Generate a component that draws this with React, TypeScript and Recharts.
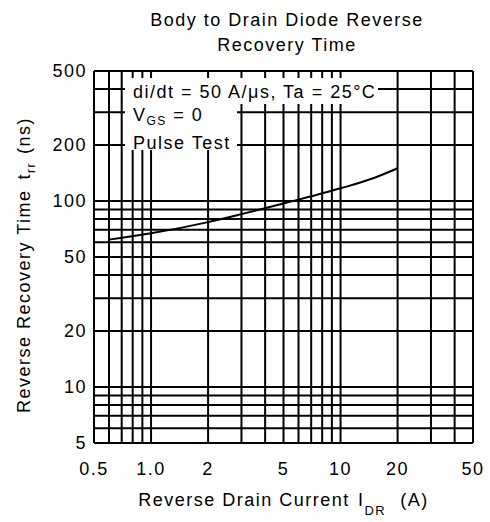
import React from 'react';
import { LineChart, Line, XAxis, YAxis, ReferenceLine, Label } from 'recharts';

// Reverse drain current (A) vs reverse recovery time (ns)
const currentA = [0.6, 1, 2, 3, 5, 7, 10, 15, 20];
const recoveryNs = [62, 67, 77, 85, 97, 106, 117, 133, 150];

const xTicks = [0.5, 1, 2, 5, 10, 20, 50];
const xTickLabels = ['0.5', '1.0', '2', '5', '10', '20', '50'];
const yTicks = [5, 10, 20, 50, 100, 200, 500];
const yTickLabels = ['5', '10', '20', '50', '100', '200', '500'];

// log-paper grid lines
const xGrid = [0.5, 0.6, 0.7, 0.8, 0.9, 1, 2, 3, 4, 5, 6, 7, 8, 9, 10, 20, 30, 40, 50];
const yGrid = [5, 6, 7, 8, 9, 10, 20, 30, 40, 50, 60, 70, 80, 90, 100, 200, 300, 400, 500];

const FONT = '"Liberation Sans", Arial, sans-serif';
const textStyle = { fontFamily: FONT, fontSize: 18, letterSpacing: 1.5, fill: '#000' };

const data = currentA.map((x, i) => ({ x, trr: recoveryNs[i] }));

function XTitle(props: any) {
  const { x, y, width } = props.viewBox;
  return (
    <text x={x + width / 2} y={y + 63} textAnchor="middle" style={textStyle}>
      Reverse Drain Current
      <tspan dx={8}>I</tspan>
      <tspan dy={9} fontSize={13}>DR</tspan>
      <tspan dy={-9} dx={14}>(A)</tspan>
    </text>
  );
}

function YTitle(props: any) {
  const cx = 30;
  const cy = 265;
  return (
    <text x={cx} y={cy} textAnchor="middle" transform={`rotate(-90, ${cx}, ${cy})`} style={textStyle}>
      Reverse Recovery Time
      <tspan dx={10}>t</tspan>
      <tspan dy={5} fontSize={12}>rr</tspan>
      <tspan dy={-5} dx={8}>(ns)</tspan>
    </text>
  );
}

export default function App() {
  const boxText: React.CSSProperties = {
    fontFamily: FONT,
    fontSize: 18,
    letterSpacing: 1.5,
    color: '#000',
    background: '#fff',
    position: 'absolute',
    whiteSpace: 'nowrap',
  };

  return (
    <div style={{ position: 'relative', width: 490, height: 522, background: '#fff' }}>
      <style>{'body{margin:0}'}</style>
      <LineChart width={490} height={522} data={data} margin={{ top: 71, right: 17, bottom: 0, left: 0 }}>
        <XAxis
          dataKey="x"
          type="number"
          scale="log"
          domain={[0.5, 50]}
          allowDataOverflow
          ticks={xTicks}
          interval={0}
          tickFormatter={(v: number) => xTickLabels[xTicks.indexOf(v)]}
          axisLine={false}
          tickLine={false}
          tickSize={6}
          tickMargin={13}
          height={79}
          tick={textStyle}
        >
          <Label content={XTitle} />
        </XAxis>
        <YAxis
          type="number"
          scale="log"
          domain={[5, 500]}
          allowDataOverflow
          ticks={yTicks}
          interval={0}
          tickFormatter={(v: number) => yTickLabels[yTicks.indexOf(v)]}
          axisLine={false}
          tickLine={false}
          tickSize={6}
          tickMargin={1}
          width={94}
          tick={textStyle}
        >
          <Label content={YTitle} />
        </YAxis>
        {xGrid.map((v) => (
          <ReferenceLine key={'gx' + v} x={v} stroke="#000" strokeWidth={2} />
        ))}
        {yGrid.map((v) => (
          <ReferenceLine key={'gy' + v} y={v} stroke="#000" strokeWidth={2} />
        ))}
        <Line
          dataKey="trr"
          type="monotone"
          stroke="#000"
          strokeWidth={2}
          dot={false}
          isAnimationActive={false}
        />
      </LineChart>

      <div
        style={{
          position: 'absolute',
          left: 100,
          top: 8,
          width: 374,
          textAlign: 'center',
          fontFamily: FONT,
          fontSize: 18,
          letterSpacing: 1.5,
          lineHeight: '25px',
        }}
      >
        Body to Drain Diode Reverse
        <br />
        Recovery Time
      </div>

      <div style={{ ...boxText, left: 125, top: 78, height: 26, lineHeight: '28px', padding: '0 2px 0 8px' }}>
        di/dt = 50 A/μs, Ta = 25°C
      </div>
      <div style={{ ...boxText, left: 125, top: 104, width: 112, height: 46, lineHeight: '22px', paddingLeft: 8, boxSizing: 'border-box' }}>
        <div>
          V<sub style={{ fontSize: 12, verticalAlign: -4 }}>GS</sub> = 0
        </div>
        <div>Pulse Test</div>
      </div>
    </div>
  );
}
